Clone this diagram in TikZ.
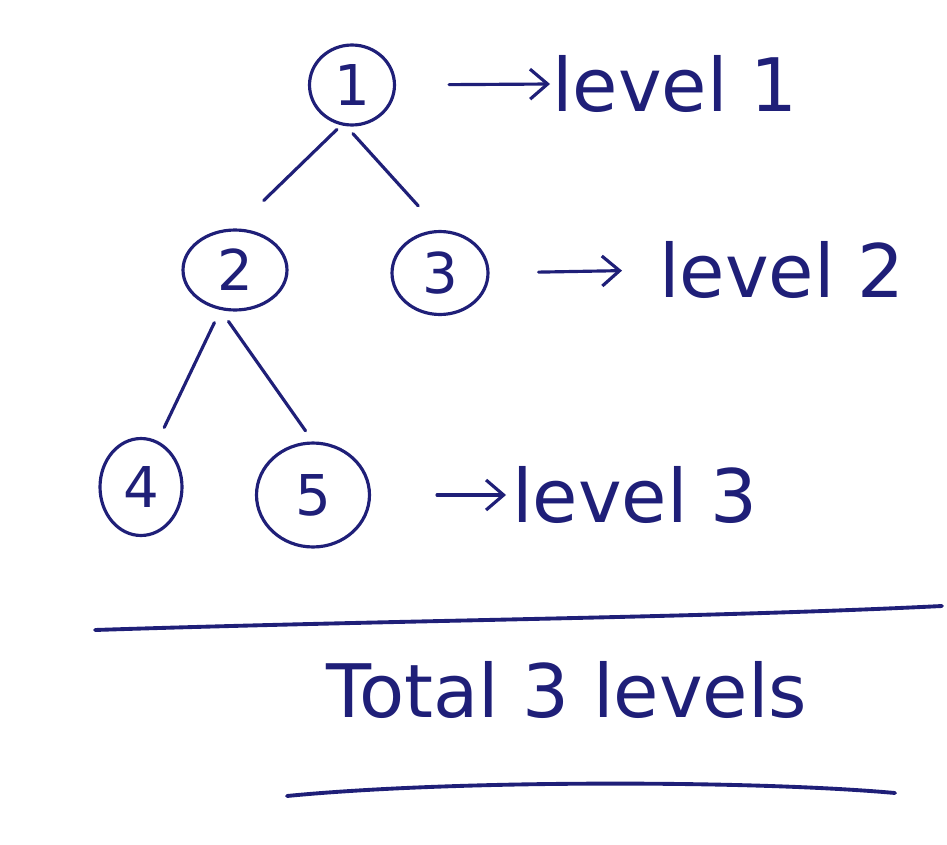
\documentclass[tikz,border=0pt]{standalone}
\usepackage{fontspec}
\setmainfont{DejaVu Sans}
\usepackage{tikz}
\usetikzlibrary{arrows.meta,shapes.geometric}
\definecolor{inkblue}{HTML}{1F1F78}

\begin{document}
\begin{tikzpicture}[
  x=0.02cm, y=-0.02cm,
  every node/.style={text=inkblue},
  treenode/.style={draw=inkblue,ellipse,line width=1.8pt,inner sep=0pt,font=\fontsize{32}{36}\selectfont},
  levelnode/.style={inner sep=1pt,anchor=west,font=\fontsize{42}{48}\selectfont},
  branch/.style={draw=inkblue,line width=1.8pt,line cap=round},
  arrow/.style={-{Straight Barb[length=3.5mm,width=6mm]},draw=inkblue,line width=1.8pt,line cap=round},
  ruleline/.style={draw=inkblue,line width=2.2pt,line cap=round}
]
\useasboundingbox[fill=white] (0,0) rectangle (947,845);

% tree
\node[treenode,minimum width=1.7cm,minimum height=1.6cm] (n1) at (352,85) {1};
\node[treenode,minimum width=2.08cm,minimum height=1.6cm] (n2) at (235,270) {2};
\node[treenode,minimum width=1.92cm,minimum height=1.66cm] (n3) at (440,273) {3};
\node[treenode,minimum width=1.64cm,minimum height=1.94cm] (n4) at (141,487) {4};
\node[treenode,minimum width=2.26cm,minimum height=2.08cm] (n5) at (313,495) {5};

\draw[branch,shorten <=0.12cm,shorten >=0.8cm] (n1.255) -- (n2.north);
\draw[branch,shorten <=0.2cm,shorten >=0.65cm] (n1.262) -- (n3.north);
\draw[branch,shorten <=0.28cm,shorten >=0.3cm] (n2.250) -- (n4.70);
\draw[branch,shorten <=0.28cm,shorten >=0.26cm] (n2.250) -- (n5.north);

% levels
\node[levelnode] (lv1) at (550,84) {level 1};
\node[levelnode] (lv2) at (657,270) {level 2};
\node[levelnode] (lv3) at (510,495) {level 3};

\draw[arrow,shorten <=1.06cm] (n1.east) -- (lv1.west);
\draw[arrow,shorten <=0.98cm,shorten >=0.7cm] (n3.east) -- (lv2.west);
\draw[arrow,shorten <=1.32cm,shorten >=0.08cm] (n5.east) -- (lv3.west);

% total
\draw[ruleline] (95,630) .. controls (400,620) and (700,618) .. (942,606);
\node[font=\fontsize{42}{48}\selectfont] (total) at (567,690) {Total 3 levels};
\draw[ruleline] (287,796) .. controls (450,780) and (750,780) .. (895,793);
\end{tikzpicture}
\end{document}
